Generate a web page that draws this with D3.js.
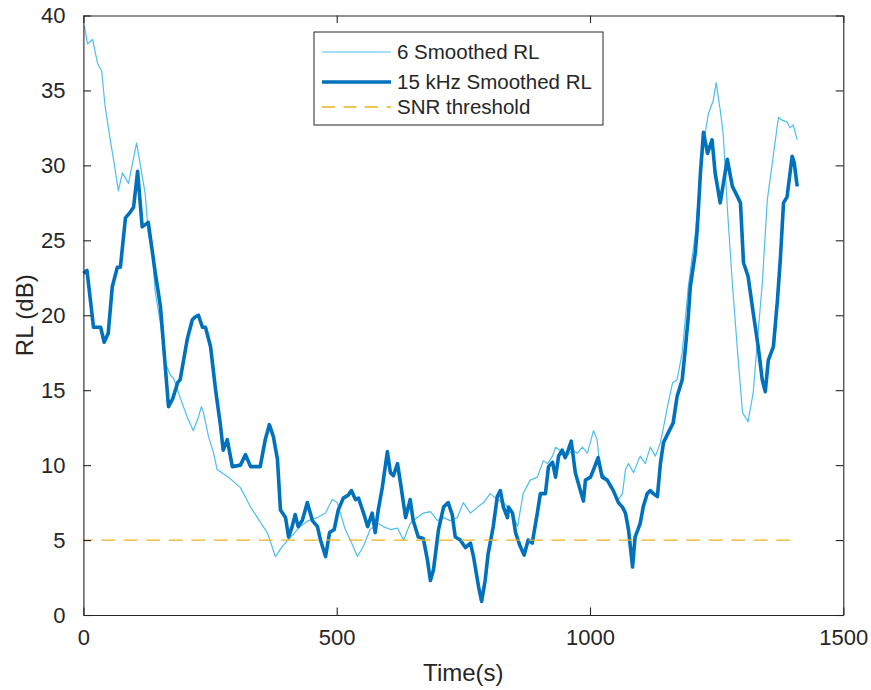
<!DOCTYPE html>
<html>
<head>
<meta charset="utf-8">
<script src="https://cdn.jsdelivr.net/npm/d3@7"></script>
<style>
  html, body { margin: 0; padding: 0; background: #ffffff; }
  svg { display: block; }
  text { font-family: "Liberation Sans", Arial, Helvetica, sans-serif; fill: #262626; }
</style>
</head>
<body>
<svg id="chart" width="871" height="690"></svg>
<script>
// Received level over time, two smoothed bands plus the SNR threshold.
const time6 = [2, 8, 18, 28, 36, 43, 53, 59, 69, 77, 89, 99, 105, 112, 122, 128, 136, 142, 152, 162,
  172, 178, 191, 205, 217, 227, 233, 237, 247, 257, 264, 286, 310, 330, 355, 363, 379, 393, 409, 428,
  444, 462, 478, 491, 501, 517, 527, 541, 553, 566, 582, 592, 606, 620, 632, 645, 659, 671, 685, 699,
  711, 724, 738, 750, 764, 778, 790, 803, 817, 829, 843, 857, 868, 882, 896, 908, 916, 926, 932, 941,
  955, 965, 975, 985, 995, 1007, 1014, 1020, 1034, 1046, 1056, 1064, 1070, 1076, 1086, 1099, 1109, 1119, 1129, 1139,
  1145, 1153, 1163, 1172, 1182, 1194, 1208, 1218, 1228, 1234, 1243, 1249, 1257, 1263, 1271, 1281, 1291, 1301, 1312, 1322,
  1330, 1340, 1350, 1356, 1372, 1380, 1389, 1395, 1401, 1409];
const rl6 = [39.3, 38.1, 38.4, 36.8, 36.3, 33.9, 31.7, 30.5, 28.3, 29.5, 28.8, 30.5, 31.5, 30.1, 28.1, 25.5, 24.1, 21.5, 19.5, 16.8,
  16.0, 15.8, 14.5, 13.2, 12.3, 13.2, 13.9, 13.5, 11.9, 10.8, 9.7, 9.2, 8.5, 7.2, 5.9, 5.5, 3.9, 4.6, 5.2, 5.9,
  6.3, 6.5, 6.8, 7.7, 7.5, 5.7, 5.0, 3.9, 4.6, 5.7, 6.1, 5.9, 5.7, 5.8, 5.0, 6.1, 6.5, 6.8, 6.9, 6.3,
  6.5, 6.3, 6.5, 7.5, 6.8, 7.2, 7.5, 8.1, 7.7, 7.5, 7.0, 5.9, 8.1, 9.0, 9.2, 10.3, 10.1, 10.6, 11.2, 11.0,
  10.6, 11.0, 10.8, 11.2, 10.8, 12.3, 11.7, 9.7, 9.0, 8.3, 7.7, 8.1, 9.7, 10.1, 9.5, 10.6, 10.1, 11.2, 10.6, 11.5,
  12.5, 13.9, 15.5, 15.7, 17.5, 21.9, 25.5, 29.5, 32.3, 33.5, 34.3, 35.5, 33.7, 32.1, 27.2, 22.1, 17.7, 13.5, 12.9, 14.8,
  18.1, 22.1, 27.7, 29.2, 33.2, 33.0, 32.9, 32.5, 32.7, 31.7];

const time15 = [0, 7, 20, 34, 41, 49, 57, 67, 73, 83, 93, 99, 107, 116, 128, 142, 152, 168, 176, 186,
  191, 205, 215, 221, 227, 235, 241, 251, 261, 270, 276, 284, 294, 310, 320, 330, 349, 359, 367, 375,
  383, 389, 399, 405, 412, 418, 424, 432, 442, 452, 462, 468, 478, 486, 495, 503, 513, 523, 529, 537,
  543, 553, 561, 570, 576, 582, 590, 600, 606, 612, 620, 626, 636, 645, 651, 661, 671, 679, 685, 691,
  701, 711, 720, 728, 734, 744, 754, 764, 770, 780, 786, 793, 799, 809, 817, 823, 829, 837, 839, 847,
  853, 862, 870, 878, 886, 896, 902, 912, 918, 926, 932, 938, 945, 951, 957, 963, 971, 981, 987, 991,
  1001, 1007, 1016, 1024, 1034, 1046, 1056, 1064, 1070, 1076, 1084, 1089, 1099, 1105, 1113, 1119, 1125, 1133, 1139, 1145,
  1155, 1164, 1172, 1182, 1188, 1194, 1198, 1208, 1212, 1218, 1224, 1232, 1241, 1247, 1257, 1271, 1281, 1287, 1297, 1303,
  1312, 1322, 1332, 1340, 1346, 1352, 1362, 1370, 1376, 1382, 1389, 1399, 1403, 1409];
const rl15 = [22.8, 23.0, 19.2, 19.2, 18.2, 18.8, 21.9, 23.2, 23.2, 26.5, 26.9, 27.2, 29.6, 25.9, 26.2, 22.8, 20.6, 13.9, 14.4, 15.5,
  15.7, 18.4, 19.7, 19.9, 20.0, 19.2, 19.2, 17.9, 15.0, 12.8, 11.0, 11.7, 9.9, 10.0, 10.7, 9.9, 9.9, 11.7, 12.7, 11.9,
  10.4, 7.0, 6.5, 5.2, 5.9, 6.7, 5.9, 6.3, 7.5, 6.3, 5.9, 5.0, 3.9, 5.5, 5.7, 7.0, 7.8, 8.0, 8.3, 7.7,
  7.8, 6.8, 5.9, 6.8, 5.5, 7.0, 8.5, 10.9, 9.5, 9.3, 10.1, 8.8, 6.5, 7.7, 6.3, 5.2, 5.1, 3.7, 2.3, 3.0,
  5.7, 7.2, 7.5, 6.7, 5.2, 5.0, 4.5, 4.8, 3.9, 1.9, 0.9, 2.3, 4.1, 5.9, 7.9, 8.3, 7.2, 6.5, 7.2, 6.8,
  5.5, 4.6, 4.0, 5.0, 4.8, 6.8, 8.1, 8.1, 9.9, 10.2, 9.2, 10.6, 11.0, 10.5, 11.0, 11.6, 9.5, 8.3, 7.6, 9.0,
  9.2, 9.7, 10.5, 9.2, 9.0, 8.3, 7.5, 7.2, 6.8, 5.7, 3.2, 5.2, 6.1, 7.2, 8.1, 8.3, 8.1, 7.9, 10.1, 11.5,
  12.2, 12.8, 14.6, 15.7, 17.7, 19.9, 21.9, 24.2, 25.9, 29.5, 32.2, 30.8, 31.7, 29.5, 27.5, 30.4, 28.6, 28.2, 27.5, 23.5,
  22.6, 20.2, 17.9, 15.7, 14.9, 17.0, 17.9, 21.0, 23.9, 27.5, 27.9, 30.6, 30.2, 28.6];

const snrThreshold = 5;
const thresholdSpan = [0, 1400];

const xTicks = [0, 500, 1000, 1500];
const yTicks = [0, 5, 10, 15, 20, 25, 30, 35, 40];
const legendLabels = ["6 Smoothed RL", "15 kHz Smoothed RL", "SNR threshold"];
const xLabel = "Time(s)";
const yLabel = "RL (dB)";

const colors = { band6: "#4DBEEE", band15: "#0072BD", threshold: "#EDB120", axis: "#262626" };

const margin = { left: 83.4, right: 871 - 843.3, top: 15.5, bottom: 690 - 615 };
const width = 871 - margin.left - margin.right;
const height = 690 - margin.top - margin.bottom;

const svg = d3.select("#chart");
const g = svg.append("g").attr("transform", `translate(${margin.left},${margin.top})`);

const x = d3.scaleLinear().domain([0, 1500]).range([0, width]);
const y = d3.scaleLinear().domain([0, 40]).range([height, 0]);

const tickLen = 7.6;
const plain = d3.format("d");

// Axes: ticks point inward, mirrored on top and right like a boxed plot
const xAxisBottom = d3.axisBottom(x).tickValues(xTicks).tickFormat(plain)
  .tickSizeInner(-tickLen).tickSizeOuter(0).tickPadding(14);
const xAxisTop = d3.axisTop(x).tickValues(xTicks).tickSizeInner(-tickLen).tickSizeOuter(0).tickFormat("");
const yAxisLeft = d3.axisLeft(y).tickValues(yTicks).tickFormat(plain)
  .tickSizeInner(-tickLen).tickSizeOuter(0).tickPadding(18);
const yAxisRight = d3.axisRight(y).tickValues(yTicks).tickSizeInner(-tickLen).tickSizeOuter(0).tickFormat("");

function styleAxis(sel) {
  sel.selectAll("path").attr("stroke", colors.axis).attr("stroke-width", 1.1);
  sel.selectAll("line").attr("stroke", colors.axis).attr("stroke-width", 1.1);
  sel.selectAll("text").attr("font-size", 22).attr("fill", colors.axis)
    .attr("font-family", '"Liberation Sans", Arial, sans-serif');
}

// Data lines
const line6 = d3.line().x((d, i) => x(time6[i])).y(d => y(d));
const line15 = d3.line().x((d, i) => x(time15[i])).y(d => y(d));

const plot = g.append("g");
plot.append("path")
  .attr("d", line6(rl6))
  .attr("fill", "none")
  .attr("stroke", colors.band6)
  .attr("stroke-width", 1.2)
  .attr("stroke-linejoin", "round");

plot.append("path")
  .attr("d", line15(rl15))
  .attr("fill", "none")
  .attr("stroke", colors.band15)
  .attr("stroke-width", 3.6)
  .attr("stroke-linejoin", "round");

plot.append("line")
  .attr("x1", x(thresholdSpan[0])).attr("x2", x(thresholdSpan[1]))
  .attr("y1", y(snrThreshold)).attr("y2", y(snrThreshold))
  .attr("stroke", colors.threshold)
  .attr("stroke-width", 1.3)
  .attr("stroke-dasharray", "14,8.5")
  .attr("stroke-dashoffset", 4.7);

g.append("g").attr("transform", `translate(0,${height})`).call(xAxisBottom).call(styleAxis);
g.append("g").call(xAxisTop).call(styleAxis);
g.append("g").call(yAxisLeft).call(styleAxis);
g.append("g").attr("transform", `translate(${width},0)`).call(yAxisRight).call(styleAxis);

// Axis titles
g.append("text")
  .attr("x", width / 2).attr("y", height + 66)
  .attr("text-anchor", "middle")
  .attr("font-size", 24)
  .text(xLabel);

g.append("text")
  .attr("transform", `translate(${-50},${height / 2}) rotate(-90)`)
  .attr("text-anchor", "middle")
  .attr("font-size", 24)
  .text(yLabel);

// Legend
const legend = svg.append("g").attr("transform", "translate(314,32)");
legend.append("rect")
  .attr("width", 289).attr("height", 93)
  .attr("fill", "#ffffff")
  .attr("stroke", colors.axis)
  .attr("stroke-width", 1);

const legendStyles = [
  { color: colors.band6, width: 1.2, dash: null },
  { color: colors.band15, width: 3.6, dash: null },
  { color: colors.threshold, width: 1.3, dash: "13,8.5" }
];
const rowY = [20, 50, 75];
legendLabels.forEach((label, i) => {
  const row = legend.append("g").attr("transform", `translate(0,${rowY[i]})`);
  row.append("line")
    .attr("x1", 8).attr("x2", 77)
    .attr("y1", 0).attr("y2", 0)
    .attr("stroke", legendStyles[i].color)
    .attr("stroke-width", legendStyles[i].width)
    .attr("stroke-dasharray", legendStyles[i].dash);
  row.append("text")
    .attr("x", 83).attr("y", 0)
    .attr("dy", "0.35em")
    .attr("font-size", 20.5)
    .text(label);
});
</script>
</body>
</html>
